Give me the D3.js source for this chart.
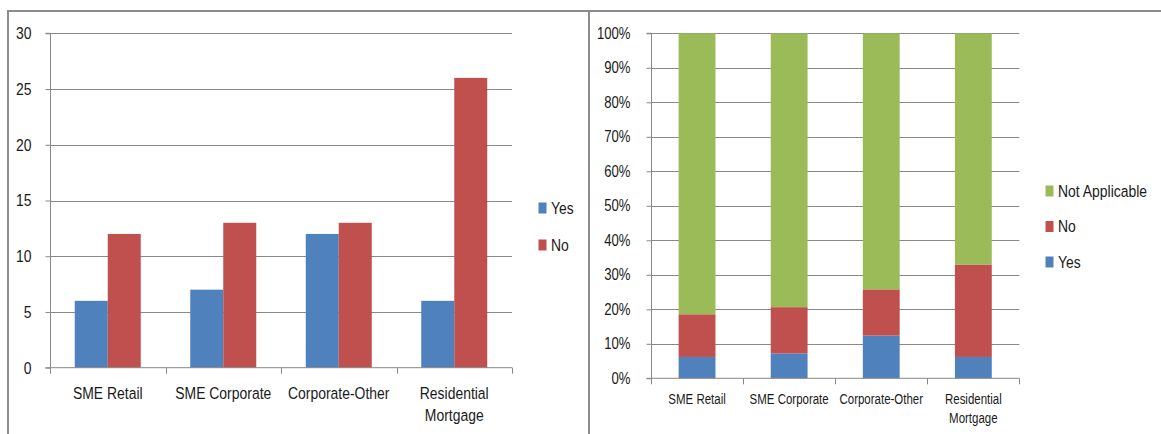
<!DOCTYPE html>
<html>
<head>
<meta charset="utf-8">
<script src="https://cdn.jsdelivr.net/npm/d3@7"></script>
<style>
  html, body { margin: 0; padding: 0; background: #fff; }
  svg { display: block; }
  text { font-family: "Liberation Sans", Arial, sans-serif; fill: #1a1a1a; }
</style>
</head>
<body>
<svg id="chart" width="1161" height="434"></svg>
<script>
// ---------- data ----------
const categories = ["SME Retail", "SME Corporate", "Corporate-Other", "Residential Mortgage"];
const categoryLines = [["SME Retail"], ["SME Corporate"], ["Corporate-Other"], ["Residential", "Mortgage"]];
const yesValues = [6, 7, 12, 6];
const noValues = [12, 13, 13, 26];
const notApplicableValues = [79, 77, 72, 65];
const leftTicks = [0, 5, 10, 15, 20, 25, 30];
const rightTicks = [0, 0.1, 0.2, 0.3, 0.4, 0.5, 0.6, 0.7, 0.8, 0.9, 1.0];
const seriesNames = ["Yes", "No", "Not Applicable"];
const seriesColors = ["#4F81BD", "#C0504D", "#9BBB59"];

const svg = d3.select("#chart");
const gridColor = "#888888";
const SX = 0.82; // horizontal condensing of text (narrow face look)

function narrow(sel) {
  sel.each(function() {
    const t = d3.select(this);
    const x = +t.attr("x") || 0;
    t.attr("transform", `scale(${SX},1)`).attr("x", x / SX);
    t.selectAll("tspan").each(function() {
      const ts = d3.select(this);
      ts.attr("x", (+ts.attr("x") || 0) / SX);
    });
  });
}

// ---------- panel borders ----------
svg.append("path")
  .attr("d", "M8,434V11H1161")
  .attr("fill", "none").attr("stroke", "#8c8c8c").attr("stroke-width", 2);
svg.append("line")
  .attr("x1", 589).attr("x2", 589).attr("y1", 11).attr("y2", 434)
  .attr("stroke", "#8c8c8c").attr("stroke-width", 2);

// ---------- helper to draw category axis ----------
function categoryAxis(g, x, yPos, fontSize, lineGap, firstBaseline) {
  const ticks = categories.map(c => x(c)).concat([x.range()[1]]);
  g.append("line")
    .attr("x1", x.range()[0]).attr("x2", x.range()[1])
    .attr("y1", yPos).attr("y2", yPos)
    .attr("stroke", gridColor);
  g.selectAll("line.ct").data(ticks).join("line").attr("class", "ct")
    .attr("x1", d => Math.round(d) + 0.5).attr("x2", d => Math.round(d) + 0.5)
    .attr("y1", yPos).attr("y2", yPos + 6)
    .attr("stroke", gridColor);
  const ax = d3.axisBottom(x).tickSize(0).tickFormat(() => "");
  const axG = g.append("g").attr("transform", `translate(0,${yPos})`).call(ax);
  axG.attr("font-family", null).attr("font-size", null);
  axG.select(".domain").remove();
  axG.selectAll(".tick").each(function(d) {
    const t = d3.select(this).select("text")
      .attr("y", 0).attr("dy", null).attr("fill", null)
      .style("font-size", fontSize + "px")
      .attr("text-anchor", "middle");
    const lines = categoryLines[categories.indexOf(d)];
    lines.forEach((ln, j) => {
      t.append("tspan").attr("x", 0).attr("y", firstBaseline + j * lineGap).text(ln);
    });
    narrow(t);
  });
}

// ---------- LEFT: clustered columns ----------
{
  const g = svg.append("g");
  const x0 = d3.scaleBand().domain(categories).range([50, 512]).padding(0);
  const bw = x0.bandwidth();
  const barW = bw / 3.5;
  const x1 = d3.scaleBand().domain(["Yes", "No"]).range([barW * 0.75, bw - barW * 0.75]).padding(0);
  const y = d3.scaleLinear().domain([0, 30]).range([367.7, 33.3]);

  g.selectAll("line.grid").data(leftTicks.filter(t => t > 0)).join("line").attr("class", "grid")
    .attr("x1", 50).attr("x2", 512)
    .attr("y1", d => Math.round(y(d)) + 0.5).attr("y2", d => Math.round(y(d)) + 0.5)
    .attr("stroke", gridColor);

  const yAx = d3.axisLeft(y).tickValues(leftTicks).tickSize(5).tickPadding(14).tickFormat(d3.format("d"));
  const yG = g.append("g").attr("transform", "translate(50.5,0)").call(yAx);
  yG.attr("font-family", null).attr("font-size", null);
  yG.select(".domain").attr("stroke", gridColor).attr("d", `M-5,${y(30)}H0V${y(0)}H-5`);
  yG.selectAll(".tick line").attr("stroke", gridColor);
  yG.selectAll(".tick text").style("font-size", "17px").attr("fill", null).call(narrow);

  const data = categories.map((c, i) => ({ cat: c, vals: [["Yes", yesValues[i]], ["No", noValues[i]]] }));
  const grp = g.selectAll("g.cat").data(data).join("g").attr("class", "cat")
    .attr("transform", d => `translate(${x0(d.cat)},0)`);
  grp.selectAll("rect").data(d => d.vals).join("rect")
    .attr("x", d => x1(d[0])).attr("width", x1.bandwidth())
    .attr("y", d => y(d[1])).attr("height", d => y(0) - y(d[1]))
    .attr("fill", (d, i) => seriesColors[i]);

  categoryAxis(g, x0, 367.7, 17, 22.5, 31.3);

  const lg = g.append("g");
  ["Yes", "No"].forEach((s, i) => {
    const cy = 208 + i * 37;
    lg.append("rect").attr("x", 538.5).attr("y", cy - 5.5).attr("width", 8).attr("height", 11)
      .attr("fill", seriesColors[seriesNames.indexOf(s)]);
    lg.append("text").attr("x", 551).attr("y", cy).attr("dy", "0.35em")
      .style("font-size", "17px").text(s).call(narrow);
  });
}

// ---------- RIGHT: 100% stacked columns ----------
{
  const g = svg.append("g");
  const x = d3.scaleBand().domain(categories).range([651, 1019.4]).padding(0);
  const bw = x.bandwidth();
  const barW = bw / 2.5;
  const y = d3.scaleLinear().domain([0, 1]).range([378.3, 33.3]);

  g.selectAll("line.grid").data(rightTicks.filter(t => t > 0)).join("line").attr("class", "grid")
    .attr("x1", 651).attr("x2", 1019.4)
    .attr("y1", d => Math.round(y(d)) + 0.5).attr("y2", d => Math.round(y(d)) + 0.5)
    .attr("stroke", gridColor);

  const yAx = d3.axisLeft(y).tickValues(rightTicks).tickSize(5).tickPadding(16).tickFormat(d3.format(".0%"));
  const yG = g.append("g").attr("transform", "translate(651.5,0)").call(yAx);
  yG.attr("font-family", null).attr("font-size", null);
  yG.select(".domain").attr("stroke", gridColor).attr("d", `M-5,${y(1)}H0V${y(0)}H-5`);
  yG.selectAll(".tick line").attr("stroke", gridColor);
  yG.selectAll(".tick text").style("font-size", "16px").attr("fill", null).call(narrow);

  const rows = categories.map((c, i) => ({
    cat: c, "Yes": yesValues[i], "No": noValues[i], "Not Applicable": notApplicableValues[i]
  }));
  const stack = d3.stack().keys(seriesNames).offset(d3.stackOffsetExpand);
  const layers = stack(rows);
  g.selectAll("g.layer").data(layers).join("g").attr("class", "layer")
    .attr("fill", (d, i) => seriesColors[i])
    .selectAll("rect").data(d => d).join("rect")
    .attr("x", d => x(d.data.cat) + (bw - barW) / 2).attr("width", barW)
    .attr("y", d => y(d[1])).attr("height", d => y(d[0]) - y(d[1]));

  categoryAxis(g, x, 378.3, 14, 19, 25.7);

  const lg = g.append("g");
  ["Not Applicable", "No", "Yes"].forEach((s, i) => {
    const cy = 191 + i * 35.5;
    lg.append("rect").attr("x", 1045.5).attr("y", cy - 5.5).attr("width", 8).attr("height", 11)
      .attr("fill", seriesColors[seriesNames.indexOf(s)]);
    lg.append("text").attr("x", 1058).attr("y", cy).attr("dy", "0.35em")
      .style("font-size", "17px").text(s).call(narrow);
  });
}
</script>
</body>
</html>
